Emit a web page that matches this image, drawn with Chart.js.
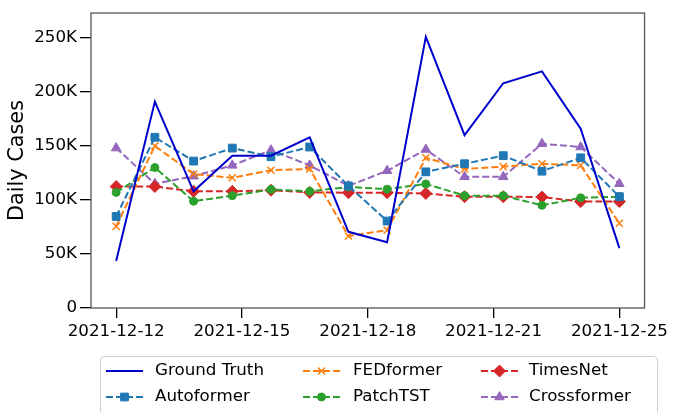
<!DOCTYPE html>
<html>
<head>
<meta charset="utf-8">
<script src="https://cdn.jsdelivr.net/npm/chart.js@4.4.1/dist/chart.umd.min.js"></script>
<style>
  html, body { margin: 0; padding: 0; background: #fff; overflow: hidden; }
  #wrap { width: 673px; height: 412px; position: relative; }
</style>
</head>
<body>
<div id="wrap"><canvas id="casesChart" width="673" height="412"></canvas></div>
<script>
// Dates of the forecast window (one point per day)
const dates = ['2021-12-12', '2021-12-13', '2021-12-14', '2021-12-15', '2021-12-16', '2021-12-17', '2021-12-18',
               '2021-12-19', '2021-12-20', '2021-12-21', '2021-12-22', '2021-12-23', '2021-12-24', '2021-12-25'];
// x ticks are evenly spread over the window, not on whole days
const xTickPos = [0, 3.25, 6.5, 9.75, 13];
const xTickLabels = ['2021-12-12', '2021-12-15', '2021-12-18', '2021-12-21', '2021-12-25'];
const yTicks = [0, 50000, 100000, 150000, 200000, 250000];

const groundTruth = [43400, 191000, 108000, 141000, 141000, 158000, 70500, 60900, 251000, 160000, 208000, 219000, 166000, 55400];
const autoformer  = [84700, 158000, 136000, 148000, 140000, 149000, 113000, 80500, 126000, 133500, 141000, 126600, 139000, 103000];
const fedformer   = [75600, 150000, 124000, 120500, 127500, 128700, 66600, 72000, 139000, 128700, 130800, 133500, 132000, 78400];
const patchtst    = [107000, 130000, 98800, 104000, 109700, 108000, 112000, 110000, 114800, 104000, 104000, 95000, 102000, 103000];
const timesnet    = [112400, 112400, 108000, 108000, 109000, 107000, 106700, 106700, 106000, 103000, 103000, 102700, 98500, 98500];
const crossformer = [148000, 115000, 122000, 132000, 146000, 132000, 113000, 127000, 146700, 121400, 121400, 152000, 149000, 115000];

const FONT = 'DejaVu Sans';
Chart.defaults.font.family = FONT;
Chart.defaults.color = '#000';

function series(label, values, color, style, radius, dashed) {
  return {
    label,
    data: values.map((v, i) => ({ x: i, y: v })),
    borderColor: color,
    backgroundColor: color,
    borderWidth: 2,
    borderDash: dashed ? [7, 3] : [],
    pointStyle: style,
    pointRadius: radius,
    pointBorderWidth: style === 'crossRot' ? 1.5 : 1,
    pointBackgroundColor: color,
    pointBorderColor: color,
    tension: 0,
    fill: false,
  };
}

// column-major order so the legend reads like the original
const datasets = [
  series('Ground Truth', groundTruth, '#0000cd', 'circle', 0, false),
  series('Autoformer', autoformer, '#1f77b4', 'rect', 5.5, true),
  series('FEDformer', fedformer, '#ff7f0e', 'crossRot', 5, true),
  series('PatchTST', patchtst, '#2ca02c', 'circle', 4, true),
  series('TimesNet', timesnet, '#d62728', 'rectRot', 6, true),
  series('Crossformer', crossformer, '#9467bd', 'triangle', 5.5, true),
];

// frame around the plot area
const frame = {
  id: 'frame',
  afterDatasetsDraw(chart) {
    const { ctx, chartArea: a } = chart;
    ctx.save();
    ctx.strokeStyle = '#555';
    ctx.lineWidth = 1.3;
    ctx.strokeRect(a.left, a.top, a.right - a.left, a.bottom - a.top);
    ctx.restore();
  }
};

// boxed legend under the axes, 3 columns x 2 rows
const boxLegend = {
  id: 'boxLegend',
  afterDraw(chart) {
    const ctx = chart.ctx;
    const cols = [106, 303, 481];
    const textX = [155, 353, 529];
    const rows = [371, 397];
    ctx.save();
    ctx.beginPath();
    ctx.roundRect(100.5, 356.5, 557, 80, 4);
    ctx.fillStyle = 'rgba(255,255,255,0.9)';
    ctx.fill();
    ctx.strokeStyle = '#d0d0d0';
    ctx.lineWidth = 1;
    ctx.stroke();
    chart.data.datasets.forEach((ds, i) => {
      const c = Math.floor(i / 2), r = i % 2;
      const x = cols[c], y = rows[r];
      ctx.strokeStyle = ds.borderColor;
      ctx.lineWidth = ds.borderWidth;
      ctx.setLineDash(ds.borderDash);
      ctx.beginPath();
      ctx.moveTo(x, y);
      ctx.lineTo(x + 37, y);
      ctx.stroke();
      ctx.setLineDash([]);
      if (ds.pointRadius > 0) {
        ctx.fillStyle = ds.pointBackgroundColor;
        ctx.strokeStyle = ds.pointBorderColor;
        ctx.lineWidth = ds.pointBorderWidth;
        Chart.helpers.drawPoint(ctx, { pointStyle: ds.pointStyle, radius: ds.pointRadius, borderWidth: ds.pointBorderWidth, rotation: 0 }, x + 18.5, y);
      }
      ctx.fillStyle = '#000';
      ctx.font = '16.7px "' + FONT + '"';
      ctx.textBaseline = 'middle';
      ctx.textAlign = 'left';
      ctx.fillText(ds.label, textX[c], y);
    });
    ctx.restore();
  }
};

const ctx = document.getElementById('casesChart').getContext('2d');
window.casesChartInstance = new Chart(ctx, {
  type: 'line',
  data: { datasets },
  options: {
    responsive: false,
    animation: false,
    layout: { padding: { left: 0, top: 6, right: 25, bottom: 0 } },
    plugins: {
      legend: { display: false },
      tooltip: { enabled: false }
    },
    scales: {
      x: {
        type: 'linear',
        min: -0.65,
        max: 13.65,
        afterBuildTicks: scale => { scale.ticks = xTickPos.map(v => ({ value: v })); },
        afterFit: scale => { scale.height = 104; },
        grid: { display: true, drawOnChartArea: false, drawTicks: true, tickLength: 10, tickColor: '#000', lineWidth: 1.3 },
        border: { display: false },
        ticks: {
          autoSkip: false,
          maxRotation: 0,
          padding: 4,
          font: { size: 16.7 },
          callback: (v, i) => xTickLabels[i]
        }
      },
      y: {
        min: 0,
        max: 273000,
        afterBuildTicks: scale => { scale.ticks = yTicks.map(v => ({ value: v })); },
        afterFit: scale => { scale.width = 91; },
        grid: { display: true, drawOnChartArea: false, drawTicks: true, tickLength: 11, tickColor: '#000', lineWidth: 1.3 },
        border: { display: false },
        title: { display: true, text: 'Daily Cases', font: { size: 20.8 }, padding: { top: 5, bottom: 0 } },
        ticks: {
          padding: 3,
          font: { size: 16.7 },
          callback: v => v === 0 ? '0' : (v / 1000) + 'K'
        }
      }
    }
  },
  plugins: [frame, boxLegend]
});
</script>
</body>
</html>
